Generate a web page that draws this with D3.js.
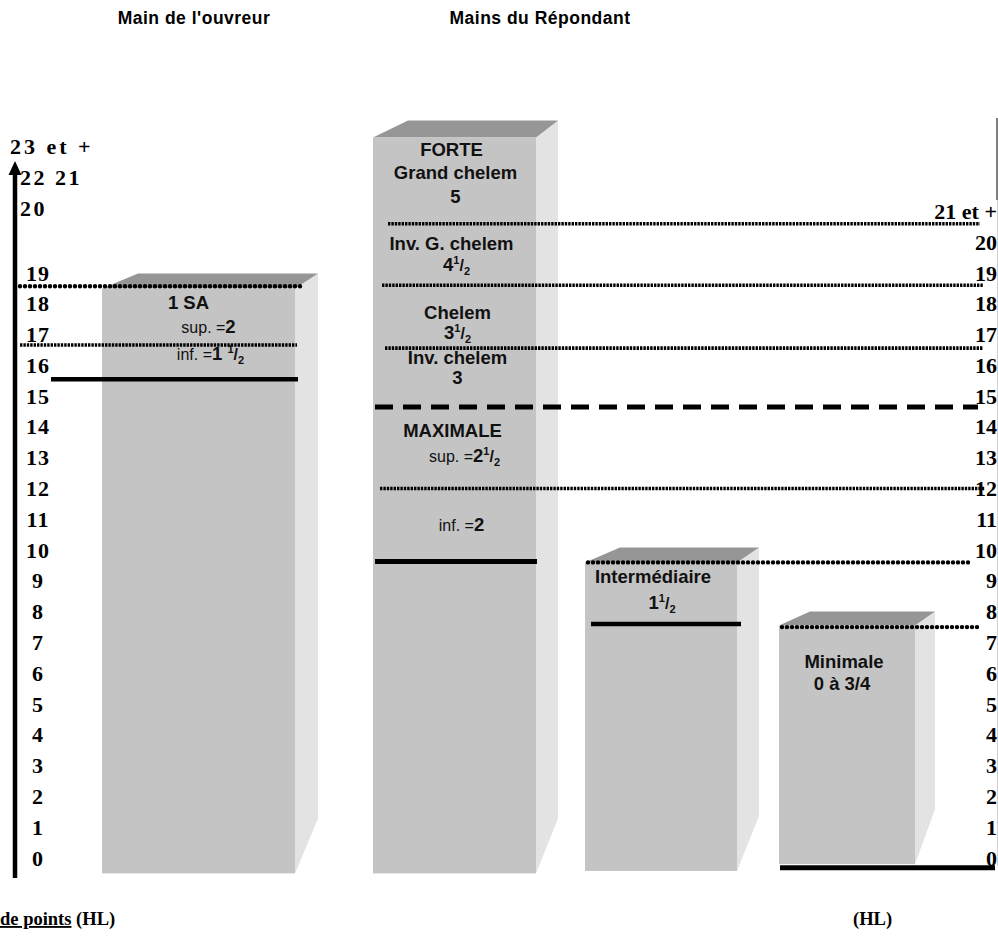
<!DOCTYPE html>
<html>
<head>
<meta charset="utf-8">
<script src="https://cdn.jsdelivr.net/npm/d3@7"></script>
<style>
  body { margin: 0; background: #fff; }
  svg { display: block; }
</style>
</head>
<body>
<div id="chart"></div>
<script>
// Les valeurs sont exprimées en points (HL)
var titres = ["Main de l'ouvreur", "Mains du Répondant"];
var mains = ["1 SA", "Forte / Maximale", "Intermédiaire", "Minimale"];
var sommets = [18.5, 23.4, 9.6, 7.55];      // haut de chaque colonne
var bases = [-0.5, -0.5, -0.42, -0.2];      // bas de chaque colonne
var graduationsG = d3.range(0, 20);
var etiquettesHautG = ["20", "22 21", "23 et +"];
var valeursHautG = [21.1, 22.1, 23.1];
var graduationsD = d3.range(0, 21);
var etiquetteHautD = "21 et +";
var valeurHautD = 21;
// seuils horizontaux (points)
var seuils = [18.57, 16.66, 15.55, 20.6, 18.6, 16.56, 14.65, 12.0, 9.63, 9.6, 7.6, 7.5, -0.32];
// textes dans les colonnes : segments [texte, genre]
var textes = [
  [["1 SA", "b"]],
  [["sup. =", "n"], ["2", "b"]],
  [["inf. =", "n"], ["1 ", "b"], ["1", "sup"], ["/", "sl"], ["2", "sub"]],
  [["FORTE", "b"]],
  [["Grand chelem", "b"]],
  [["5", "b"]],
  [["Inv. G. chelem", "b"]],
  [["4", "b"], ["1", "sup"], ["/", "sl"], ["2", "sub"]],
  [["Chelem", "b"]],
  [["3", "b"], ["1", "sup"], ["/", "sl"], ["2", "sub"]],
  [["Inv. chelem", "b"]],
  [["3", "b"]],
  [["MAXIMALE", "b"]],
  [["sup. =", "n"], ["2", "b"], ["1", "sup"], ["/", "sl"], ["2", "sub"]],
  [["inf. =", "n"], ["2", "b"]],
  [["Intermédiaire", "b"]],
  [["1", "b"], ["1", "sup"], ["/", "sl"], ["2", "sub"]],
  [["Minimale", "b"]],
  [["0 à 3/4", "b"]]
];
var textesColonne = [0, 0, 0, 1, 1, 1, 1, 1, 1, 1, 1, 1, 1, 1, 1, 2, 2, 3, 3];
var textesNiveau = [18.03, 17.25, 16.4, 23.0, 22.28, 21.47, 19.97, 19.26, 17.73, 17.08, 16.27, 15.59, 13.9, 13.06, 10.82, 9.13, 8.31, 6.37, 5.68];

// ---- mise en page ----
var W = 998, H = 936;
var svg = d3.select("#chart").append("svg")
    .attr("width", W)
    .attr("height", H);

var y = d3.scaleLinear().domain([0, 19]).range([858, 273]);
var xFace = d3.scaleOrdinal().domain(mains)
    .range([[102, 295], [373, 536], [585, 737], [779, 915]]);
var relief = [{ g: 36, d: 23, h: 15 }, { g: 35, d: 22, h: 17 }, { g: 35, d: 22, h: 15 }, { g: 31, d: 20, h: 14 }];
var decalTexte = [-10, 10, 12, -3, 1, 1, -3, 2, 3, 3, 3, 3, -2, 10, 7, -8, 1, -3, -5];

var sans = "'Liberation Sans', Arial, sans-serif";
var serif = "'Liberation Serif', 'Times New Roman', serif";

// colonnes en relief
mains.forEach(function (m, i) {
    var ext = xFace(m), yt = y(sommets[i]), yb = y(bases[i]), r = relief[i];
    var g = svg.append("g").attr("class", "colonne");
    g.append("path")
        .attr("d", d3.line()([[ext[1], yt], [ext[1] + r.d, yt - r.h], [ext[1] + r.d, yb - 55], [ext[1], yb]]) + "Z")
        .attr("fill", "#e3e3e3");
    g.append("path")
        .attr("d", d3.line()([[ext[0], yt], [ext[0] + r.g, yt - r.h], [ext[1] + r.d, yt - r.h], [ext[1], yt]]) + "Z")
        .attr("fill", "#969696");
    g.append("rect")
        .attr("x", ext[0]).attr("y", yt)
        .attr("width", ext[1] - ext[0]).attr("height", yb - yt)
        .attr("fill", "#c4c4c4");
});

// traits horizontaux
var styles = {
    points: { w: 4.4, dash: "0 5", cap: "round" },
    fin: { w: 3.6, dash: "2.4 1", cap: "butt" },
    plein4: { w: 4.5, dash: null, cap: "butt" },
    plein5: { w: 5, dash: null, cap: "butt" },
    tirets: { w: 5, dash: "18 10", cap: "butt" }
};
var lignes = [
    { x: [20, 301], s: "points" }, { x: [20, 297], s: "fin" }, { x: [51, 298], s: "plein4" },
    { x: [388, 980], s: "fin" }, { x: [382, 983], s: "fin" }, { x: [385, 983], s: "fin" },
    { x: [375, 978], s: "tirets" }, { x: [380, 985], s: "fin" }, { x: [375, 537], s: "plein5" },
    { x: [588, 972], s: "points" }, { x: [591, 741], s: "plein4" }, { x: [782, 982], s: "points" },
    { x: [780, 995], s: "plein5" }
];
svg.append("g").selectAll("line").data(seuils).join("line")
    .attr("x1", function (d, i) { return lignes[i].x[0]; })
    .attr("x2", function (d, i) { return lignes[i].x[1]; })
    .attr("y1", function (d) { return y(d); })
    .attr("y2", function (d) { return y(d); })
    .attr("stroke", "#000")
    .attr("stroke-width", function (d, i) { return styles[lignes[i].s].w; })
    .attr("stroke-dasharray", function (d, i) { return styles[lignes[i].s].dash; })
    .attr("stroke-linecap", function (d, i) { return styles[lignes[i].s].cap; });

// textes des colonnes
var genres = {
    b: { size: 18.5, weight: "bold", dy: 0 },
    n: { size: 16, weight: "normal", dy: 0 },
    sup: { size: 11, weight: "bold", dy: -7 },
    sl: { size: 16, weight: "bold", dy: 7 },
    sub: { size: 11, weight: "bold", dy: 4 }
};
textes.forEach(function (segs, i) {
    var ext = xFace(mains[textesColonne[i]]);
    var t = svg.append("text")
        .attr("x", (ext[0] + ext[1]) / 2 + decalTexte[i])
        .attr("y", y(textesNiveau[i]) + 6.5)
        .attr("text-anchor", "middle")
        .attr("font-family", sans)
        .attr("fill", "#111");
    segs.forEach(function (s) {
        var gs = genres[s[1]];
        t.append("tspan")
            .attr("font-size", gs.size)
            .attr("font-weight", gs.weight)
            .attr("dy", gs.dy)
            .text(s[0]);
    });
});

// axe gauche
svg.append("path")
    .attr("d", d3.line()([[15, 878], [15, 170]]))
    .attr("stroke", "#000").attr("stroke-width", 4.5);
svg.append("path")
    .attr("d", d3.line()([[15, 161], [8.5, 175], [21.5, 175]]) + "Z")
    .attr("fill", "#000");

var axeG = svg.append("g")
    .attr("transform", "translate(38,0)")
    .call(d3.axisRight(y).tickValues(graduationsG).tickSize(0).tickPadding(0).tickFormat(d3.format("d")));
axeG.select(".domain").remove();
axeG.attr("font-family", serif).attr("font-size", 22).attr("font-weight", "bold").attr("text-anchor", "middle");
axeG.selectAll("text").attr("fill", "#000").attr("letter-spacing", 1);

svg.append("g").selectAll("text").data(etiquettesHautG).join("text")
    .attr("x", function (d, i) { return i === 2 ? 10 : 20; })
    .attr("y", function (d, i) { return y(valeursHautG[i]); })
    .attr("dy", "0.34em")
    .attr("font-family", serif).attr("font-size", 22).attr("font-weight", "bold")
    .attr("letter-spacing", function (d, i) { return i === 2 ? 3 : 2.5; })
    .text(function (d) { return d; });

// axe droit
var axeD = svg.append("g")
    .attr("transform", "translate(997,0)")
    .call(d3.axisLeft(y).tickValues(graduationsD).tickSize(0).tickPadding(0).tickFormat(d3.format("d")));
axeD.select(".domain").remove();
axeD.attr("font-family", serif).attr("font-size", 22).attr("font-weight", "bold").attr("text-anchor", "end");
axeD.selectAll("text").attr("fill", "#000");
svg.append("text")
    .attr("x", 997).attr("y", y(valeurHautD)).attr("dy", "0.34em")
    .attr("text-anchor", "end")
    .attr("font-family", serif).attr("font-size", 22).attr("font-weight", "bold")
    .text(etiquetteHautD);

svg.append("line").attr("x1", 997).attr("x2", 997).attr("y1", 118).attr("y2", 200)
    .attr("stroke", "#555").attr("stroke-width", 1.5);
svg.append("line").attr("x1", 997.5).attr("x2", 997.5).attr("y1", 200).attr("y2", 866)
    .attr("stroke", "#d0d0d0").attr("stroke-width", 1);

// titres
svg.append("g").selectAll("text").data(titres).join("text")
    .attr("x", function (d, i) { return i === 0 ? 194 : 540; })
    .attr("y", 24)
    .attr("text-anchor", "middle")
    .attr("font-family", sans).attr("font-size", 17.5).attr("font-weight", "bold")
    .attr("letter-spacing", 0.5)
    .text(function (d) { return d; });

// légendes du bas
var bas = svg.append("text")
    .attr("x", 0).attr("y", 925)
    .attr("font-family", serif).attr("font-size", 18.5).attr("font-weight", "bold");
bas.append("tspan").attr("text-decoration", "underline").text("de points");
bas.append("tspan").text(" (HL)");
svg.append("text")
    .attr("x", 853).attr("y", 925)
    .attr("font-family", serif).attr("font-size", 18.5).attr("font-weight", "bold")
    .text("(HL)");
</script>
</body>
</html>
